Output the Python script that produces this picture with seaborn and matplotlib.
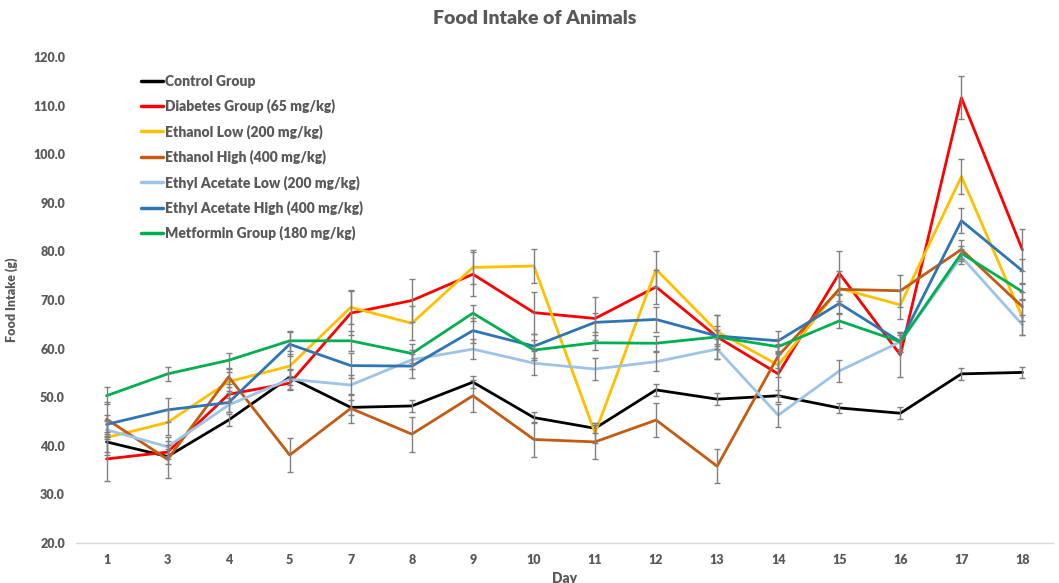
import numpy as np
import pandas as pd
import matplotlib
matplotlib.use("Agg")
import matplotlib.pyplot as plt
import seaborn as sns

days = ["1", "3", "4", "5", "7", "8", "9", "10", "11", "12", "13", "14", "15", "16", "17", "18"]

groups = ["Control Group", "Diabetes Group (65 mg/kg)", "Ethanol Low (200 mg/kg)",
          "Ethanol High (400 mg/kg)", "Ethyl Acetate Low (200 mg/kg)",
          "Ethyl Acetate High (400 mg/kg)", "Metformin Group (180 mg/kg)"]

control = [40.8, 37.8, 45.3, 54.1, 47.9, 48.2, 53.1, 45.8, 43.6, 51.5, 49.6, 50.3, 47.8, 46.7, 54.8, 55.1]
control_err = [2.0, 1.5, 1.2, 1.5, 1.5, 1.3, 1.3, 1.2, 1.0, 1.3, 1.2, 1.2, 1.1, 1.2, 1.2, 1.2]

diabetes = [37.3, 38.7, 50.6, 52.9, 67.3, 69.9, 75.3, 67.4, 66.2, 72.7, 62.4, 54.8, 75.5, 58.7, 111.6, 80.3]
diabetes_err = [4.5, 1.5, 1.5, 1.5, 4.5, 4.4, 4.5, 4.3, 4.4, 3.5, 4.5, 4.5, 4.5, 4.5, 4.4, 4.3]

eth_low = [41.7, 44.8, 53.2, 56.4, 68.5, 65.2, 76.7, 77.0, 42.6, 76.3, 63.5, 56.6, 72.4, 69.0, 95.4, 66.4]
eth_low_err = [3.5, 2.5, 2.0, 2.5, 3.5, 3.5, 3.5, 3.5, 2.0, 3.7, 3.5, 2.5, 3.5, 3.0, 3.6, 3.5]

eth_high = [45.5, 37.2, 54.2, 38.1, 47.7, 42.4, 50.3, 41.3, 40.8, 45.3, 35.8, 58.5, 72.2, 71.9, 80.4, 68.6]
eth_high_err = [3.5, 3.8, 1.5, 3.5, 3.0, 3.6, 3.3, 3.7, 3.5, 3.5, 3.5, 2.5, 2.5, 3.3, 2.0, 3.0]

ea_low = [43.3, 39.8, 48.4, 53.7, 52.5, 57.7, 59.9, 57.0, 55.8, 57.3, 59.9, 46.3, 55.4, 61.4, 78.9, 64.9]
ea_low_err = [2.0, 2.0, 1.5, 2.0, 2.0, 2.0, 2.0, 2.5, 2.3, 2.0, 2.0, 2.4, 2.3, 2.0, 1.5, 2.0]

ea_high = [44.4, 47.4, 48.9, 60.9, 56.5, 56.4, 63.7, 60.5, 65.4, 66.0, 62.6, 61.6, 69.3, 61.4, 86.3, 76.0]
ea_high_err = [2.0, 2.5, 2.0, 2.5, 2.5, 2.5, 2.5, 2.5, 2.0, 2.5, 2.0, 2.0, 2.0, 2.0, 2.6, 2.5]

metformin = [50.3, 54.8, 57.6, 61.6, 61.6, 59.0, 67.3, 59.7, 61.2, 61.1, 62.4, 60.4, 65.7, 61.4, 79.6, 71.7]
metformin_err = [1.7, 1.5, 1.5, 2.0, 2.0, 2.0, 1.7, 2.0, 1.5, 1.5, 1.5, 1.5, 1.5, 1.5, 1.5, 1.5]

colors = ["#000000", "#FF0000", "#FFC000", "#C55A11", "#9DC3E6", "#2E75B6", "#00B050"]

series = [control, diabetes, eth_low, eth_high, ea_low, ea_high, metformin]
errs = [control_err, diabetes_err, eth_low_err, eth_high_err, ea_low_err, ea_high_err, metformin_err]

rows = []
for g, vals, es in zip(groups, series, errs):
    for i, (d, v, e) in enumerate(zip(days, vals, es)):
        rows.append({"pos": i, "day": d, "group": g, "value": v, "err": e})
df = pd.DataFrame(rows)

sns.set_theme(style="white")
plt.rcParams["font.family"] = ["Lato", "DejaVu Sans"]
gray = "#595959"

fig = plt.figure(figsize=(10.59, 5.83), dpi=100)
ax = fig.add_axes([76 / 1059, 1 - 543 / 583, (1053 - 76) / 1059, (543 - 57) / 583])

sns.lineplot(data=df, x="pos", y="value", hue="group", hue_order=groups,
             palette=dict(zip(groups, colors)), linewidth=2.0, ax=ax,
             sort=False, estimator=None, legend=True)

for g in groups:
    sub = df[df["group"] == g]
    ax.errorbar(sub["pos"], sub["value"], yerr=sub["err"], fmt="none",
                ecolor="#808080", elinewidth=1.0, capsize=2.5, capthick=1.0, zorder=3)

ax.set_xlim(-0.5, len(days) - 0.5)
ax.set_ylim(20, 120)
ax.set_xticks(range(len(days)))
ax.set_xticklabels(days)
ax.set_yticks(np.arange(20, 121, 10))
ax.set_yticklabels([f"{v:.1f}" for v in np.arange(20, 121, 10)])
ax.tick_params(axis="both", length=0, labelsize=9, labelcolor=gray, pad=8)
for lab in ax.get_xticklabels() + ax.get_yticklabels():
    lab.set_fontweight("heavy")

for s in ["top", "right", "left"]:
    ax.spines[s].set_visible(False)
ax.spines["bottom"].set_color("#D9D9D9")
ax.spines["bottom"].set_linewidth(1.0)
ax.grid(False)

ax.set_xlabel("Day", fontsize=10, fontweight="heavy", color=gray, labelpad=4)
ax.set_ylabel("Food Intake (g)", fontsize=9, fontweight="heavy", color=gray, labelpad=4)
ax.yaxis.set_label_coords(-(76 - 18) / (1053 - 76), 0.5)

fig.suptitle("Food Intake of Animals", x=535 / 1059, y=1 - 10 / 583, fontsize=14,
             fontweight="heavy", color=gray, va="top")

handles, labels = ax.get_legend_handles_labels()
leg = ax.legend(handles, labels, loc="upper left", bbox_to_anchor=(141 / 1059, 1 - 75 / 583),
                bbox_transform=fig.transFigure, frameon=False, borderpad=0, borderaxespad=0,
                handlelength=1.6, handletextpad=0.15, labelspacing=0.78,
                prop={"size": 10, "weight": "heavy"})
for t in leg.get_texts():
    t.set_color(gray)
for l in leg.get_lines():
    l.set_linewidth(2.5)

fig.savefig("out.png", dpi=100)
